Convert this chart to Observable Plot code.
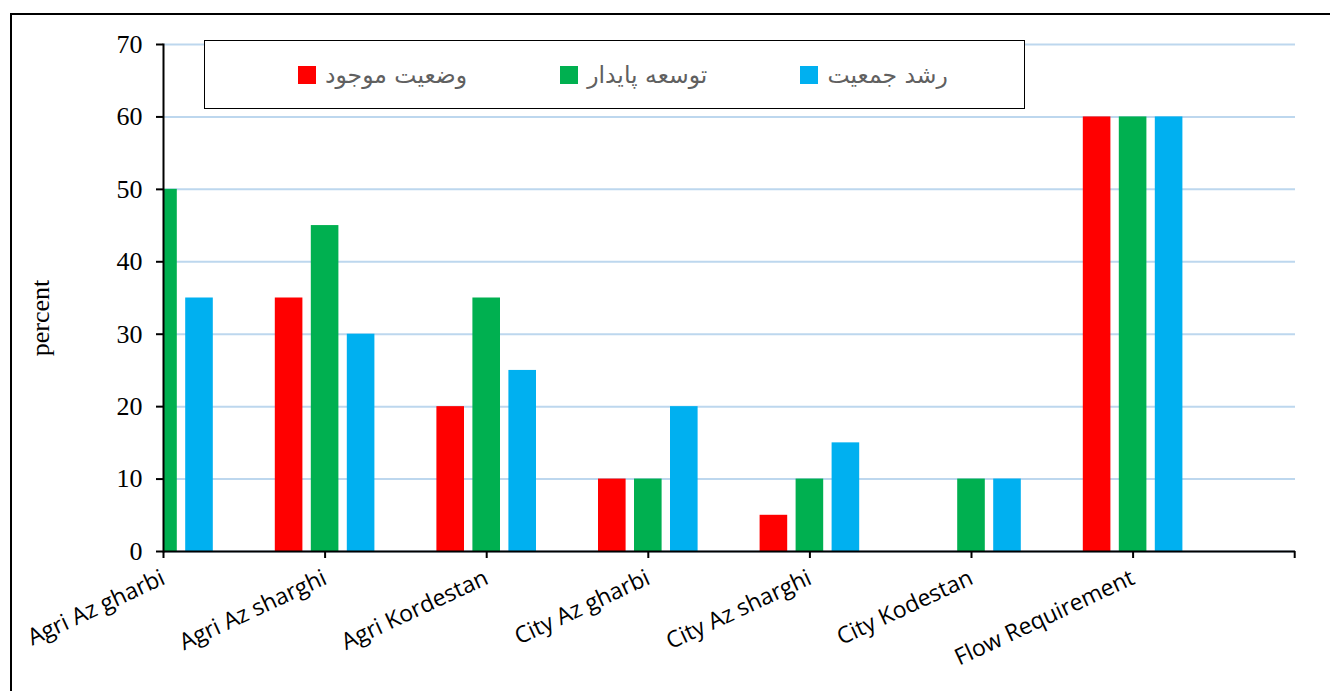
<!DOCTYPE html>
<html>
<head>
<meta charset="utf-8">
<script src="https://cdn.jsdelivr.net/npm/d3@7"></script>
<script src="https://cdn.jsdelivr.net/npm/@observablehq/plot@0.6"></script>
<style>
  html, body { margin: 0; padding: 0; background: #fff; overflow: hidden; }
  #wrap { position: relative; width: 1330px; height: 691px; overflow: hidden; }
  #border { position: absolute; left: 10px; top: 13px; width: 1400px; height: 800px; border: 2px solid #000; box-sizing: border-box; }
  #chart { position: absolute; left: 0; top: 0; }
  #legend {
    position: absolute; left: 204px; top: 40px; width: 821px; height: 69px;
    box-sizing: border-box; border: 1.5px solid #000; background: #fff;
    display: flex; align-items: center; padding-left: 93px; gap: 93px;
    font-family: "DejaVu Sans", "Noto Sans", sans-serif; font-size: 23.5px; color: #606060;
  }
  .item { display: flex; align-items: center; gap: 9px; }
  .swatch { width: 18px; height: 18px; }
  .item span { direction: rtl; }
</style>
</head>
<body>
<div id="wrap">
  <div id="border"></div>
  <div id="chart"></div>
  <div id="legend"></div>
</div>
<script>
// Categories along the x axis
const categories = ["Agri Az gharbi", "Agri Az sharghi", "Agri Kordestan", "City Az gharbi", "City Az sharghi", "City Kodestan", "Flow Requirement"];

// Series values (percent), one per category
const current = [null, 35, 20, 10, 5, null, 60];      // وضعیت موجود
const sustainable = [50, 45, 35, 10, 10, 10, 60];     // توسعه پایدار
const growth = [35, 30, 25, 20, 15, 10, 60];          // رشد جمعیت

const seriesNames = ["وضعیت موجود", "توسعه پایدار", "رشد جمعیت"];
const seriesColors = ["#FF0000", "#00B050", "#00B0F0"];
const yTicks = [0, 10, 20, 30, 40, 50, 60, 70];
const yLabel = "percent";

const seriesValues = [current, sustainable, growth];
const offsets = [-36, 0, 36];

const barMarks = seriesValues.map((vals, s) =>
  Plot.barY(
    categories.map((c, i) => ({category: c, value: vals[i]})).filter(d => d.value != null),
    {
      x: "category", y: "value", fill: seriesColors[s],
      dx: offsets[s], insetLeft: 67, insetRight: 67, clip: true
    }
  )
);

const serif = "Liberation Serif, Times New Roman, serif";

const chart = Plot.plot({
  width: 1330,
  height: 691,
  marginLeft: 163,
  marginRight: 35,
  marginTop: 44,
  marginBottom: 140,
  style: {background: "transparent", overflow: "visible"},
  x: {type: "band", domain: [...categories, ""], range: [82.2, 1375], padding: 0, round: false},
  y: {domain: [0, 70]},
  marks: [
    Plot.gridY(yTicks, {stroke: "#BDD7EE", strokeOpacity: 1, strokeWidth: 2}),
    ...barMarks,
    Plot.ruleY([0], {stroke: "#000", strokeWidth: 2}),
    Plot.frame({anchor: "left", stroke: "#000", strokeWidth: 2}),
    Plot.axisY(yTicks, {
      tickSize: 7, tickPadding: 14, strokeWidth: 2,
      fontSize: 26, fontFamily: serif, label: null
    }),
    Plot.text([yLabel], {
      text: d => d, frameAnchor: "left", dx: -123, dy: 20, rotate: -90,
      textAnchor: "middle", lineAnchor: "middle", fontSize: 26, fontFamily: serif, fill: "#000"
    }),
    Plot.axisX({
      tickSize: 7, strokeWidth: 2, tickRotate: -25, tickPadding: 18,
      fontSize: 23, fontFamily: "Open Sans, sans-serif", label: null
    })
  ]
});
document.getElementById("chart").appendChild(chart);

// Legend box
const legend = document.getElementById("legend");
seriesNames.forEach((name, i) => {
  const item = document.createElement("div");
  item.className = "item";
  const sw = document.createElement("div");
  sw.className = "swatch";
  sw.style.background = seriesColors[i];
  const label = document.createElement("span");
  label.textContent = name;
  item.appendChild(sw);
  item.appendChild(label);
  legend.appendChild(item);
});
</script>
</body>
</html>
